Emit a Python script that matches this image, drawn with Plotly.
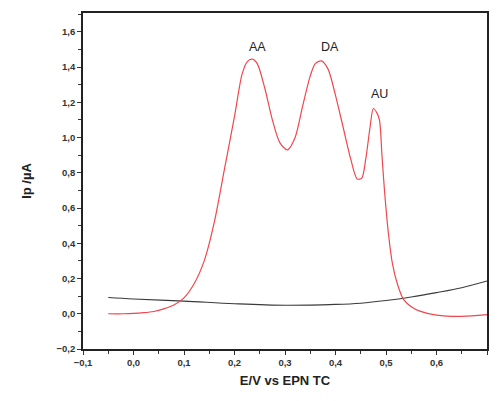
import plotly.graph_objects as go

# Red voltammogram (AA, DA, AU oxidation peaks)
red_x = [-0.05, -0.02, 0.0, 0.02, 0.04, 0.06, 0.08, 0.10, 0.12, 0.14, 0.16, 0.18,
         0.20, 0.215, 0.225, 0.235, 0.245, 0.26, 0.275, 0.29, 0.305, 0.32, 0.335,
         0.35, 0.36, 0.372, 0.385, 0.40, 0.415, 0.43, 0.443, 0.452, 0.46, 0.468,
         0.475, 0.482, 0.487, 0.492, 0.497, 0.505, 0.513, 0.523, 0.535, 0.55,
         0.567, 0.60, 0.65, 0.70]
red_y = [0.0, 0.0, 0.002, 0.006, 0.013, 0.028, 0.05, 0.09, 0.17, 0.30, 0.52, 0.82,
         1.12, 1.36, 1.43, 1.445, 1.42, 1.28, 1.10, 0.97, 0.93, 1.00, 1.18,
         1.35, 1.42, 1.435, 1.39, 1.24, 1.06, 0.88, 0.765, 0.77, 0.88, 1.05,
         1.165, 1.14, 1.10, 0.90, 0.70, 0.45, 0.28, 0.165, 0.08, 0.04,
         0.015, -0.008, -0.015, -0.005]

# Black baseline (blank)
black_x = [-0.05, 0.0, 0.1, 0.2, 0.3, 0.4, 0.45, 0.5, 0.55, 0.6, 0.65, 0.7]
black_y = [0.092, 0.084, 0.072, 0.057, 0.048, 0.053, 0.06, 0.075, 0.095, 0.12, 0.148, 0.186]

peak_labels = ["AA", "DA", "AU"]
peak_x = [0.246, 0.39, 0.487]
peak_y = [1.515, 1.515, 1.245]

fig = go.Figure()
fig.add_trace(go.Scatter(x=black_x, y=black_y, mode="lines",
                         line=dict(color="#3a3a3a", width=1.1, shape="spline"),
                         showlegend=False))
fig.add_trace(go.Scatter(x=red_x, y=red_y, mode="lines",
                         line=dict(color="#f0474f", width=1.2, shape="spline", smoothing=0.8),
                         showlegend=False))

for t, x, y in zip(peak_labels, peak_x, peak_y):
    fig.add_annotation(x=x, y=y, text=t, showarrow=False,
                       font=dict(family="Liberation Sans, Arial", size=12.5, color="#222"))

tickfont = dict(family="Liberation Sans, Arial", size=9.5, color="#333", weight="bold")
titlefont = dict(family="Liberation Sans, Arial", size=13, color="#222")

# page body has an 8px margin, so the figure is sized to fit inside the window
fig.update_layout(
    width=482, height=380,
    margin=dict(l=75, r=1, t=5, b=36),
    paper_bgcolor="white", plot_bgcolor="white",
    separators=",.",
    xaxis=dict(range=[-0.1, 0.7], dtick=0.1, tick0=0, tickformat=".1f",
               showgrid=False, zeroline=False,
               showline=True, linecolor="#222", linewidth=1.6, mirror=True,
               ticks="outside", ticklen=4, tickwidth=1.2, tickcolor="#333",
               minor=dict(ticks="outside", dtick=0.05, ticklen=3, tickcolor="#333"),
               tickfont=tickfont,
               title=dict(text="<b>E/V vs EPN TC</b>", font=titlefont, standoff=10)),
    yaxis=dict(range=[-0.2, 1.707], dtick=0.2, tick0=0, tickformat=".1f",
               showgrid=False, zeroline=False,
               showline=True, linecolor="#222", linewidth=1.6, mirror=True,
               ticks="outside", ticklen=4, tickwidth=1.2, tickcolor="#333",
               minor=dict(ticks="outside", dtick=0.1, ticklen=3, tickcolor="#333"),
               tickfont=tickfont,
               title=dict(text="<b>Ip /µA</b>", font=titlefont, standoff=22)),
)

fig.write_html("out.html")
